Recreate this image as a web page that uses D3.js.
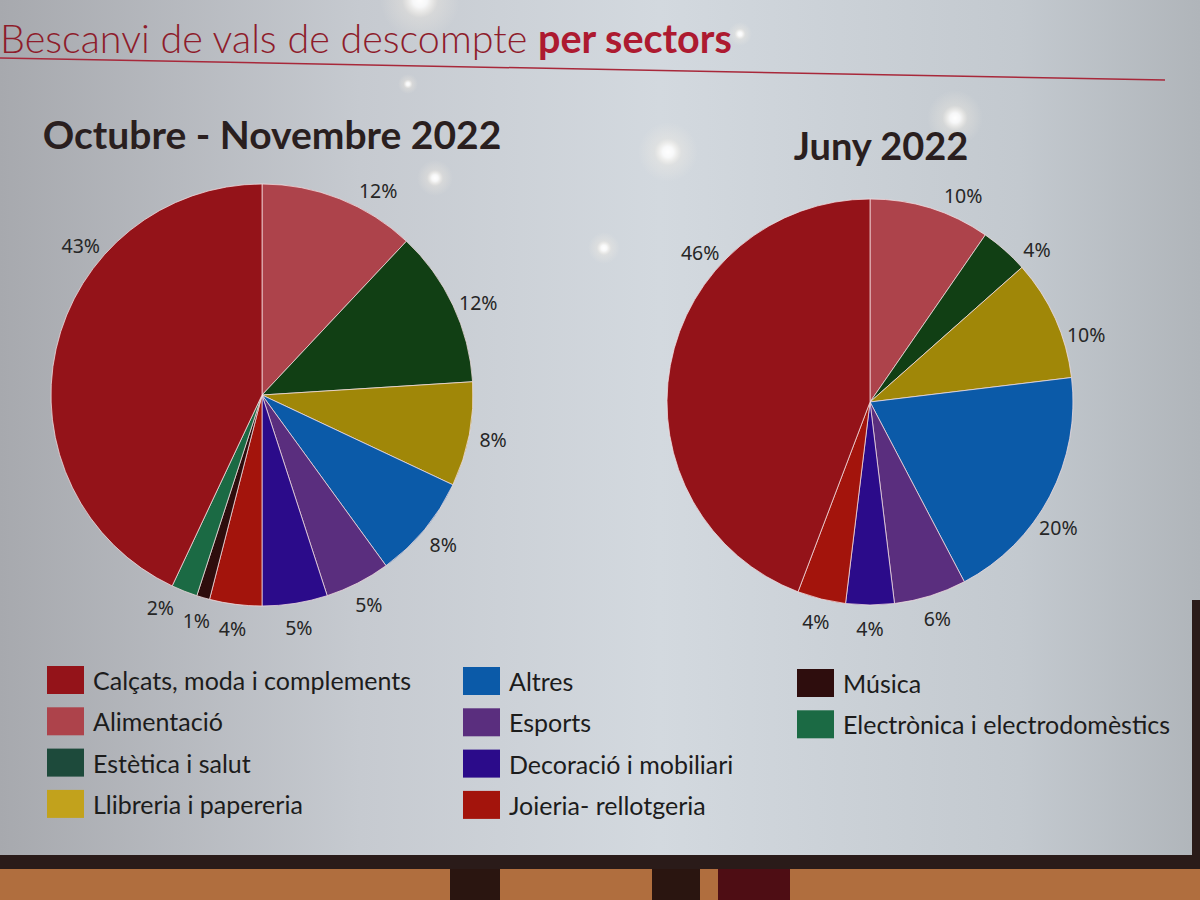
<!DOCTYPE html>
<html>
<head>
<meta charset="utf-8">
<script src="https://cdn.jsdelivr.net/npm/d3@7"></script>
<style>
  html, body { margin: 0; padding: 0; background: #c9cdd3; }
  svg { display: block; }
</style>
</head>
<body>
<svg id="chart" width="1200" height="900"></svg>
<script>
// ── Data ──────────────────────────────────────────────────────────────────────
const categories = [
  "Calçats, moda i complements", "Alimentació", "Estètica i salut",
  "Llibreria i papereria", "Altres", "Esports", "Decoració i mobiliari",
  "Joieria- rellotgeria", "Música", "Electrònica i electrodomèstics"
];
const octNovValues = [43, 12, 12, 8, 8, 5, 5, 4, 1, 2];
const junyValues   = [46, 10, 4, 10, 20, 6, 4, 4, 0, 0];
const pieTitles    = ["Octubre - Novembre 2022", "Juny 2022"];

const COLOR = {
  "Calçats, moda i complements":     "#941319",
  "Alimentació":                     "#ad434b",
  "Estètica i salut":                "#113f14",
  "Llibreria i papereria":           "#a08708",
  "Altres":                          "#0b5aa8",
  "Esports":                         "#5a2e7e",
  "Decoració i mobiliari":           "#2b0b8a",
  "Joieria- rellotgeria":            "#a3140c",
  "Música":                          "#2e0d0d",
  "Electrònica i electrodomèstics":  "#1b6a44"
};
const SWATCH = Object.assign({}, COLOR, {
  "Estètica i salut": "#1d4a3b",
  "Llibreria i papereria": "#c2a21c"
});

// pies start at 12 o'clock with Alimentació; Calçats closes the circle
const pieOrder = categories.slice(1).concat(categories[0]);

const svg = d3.select("#chart");
const W = 1200, H = 900;
const defs = svg.append("defs");

// ── Screen background ─────────────────────────────────────────────────────────
const bg = defs.append("linearGradient").attr("id", "bg")
  .attr("x1", "0").attr("y1", "0").attr("x2", "1").attr("y2", "0");
[["0%", "#a7a9ae"], ["30%", "#c6cad0"], ["55%", "#d3d9df"], ["85%", "#c3c9cf"], ["100%", "#b0b5ba"]]
  .forEach(([o, c]) => bg.append("stop").attr("offset", o).attr("stop-color", c));
svg.append("rect").attr("width", W).attr("height", 860).attr("fill", "url(#bg)");

const glow = defs.append("radialGradient").attr("id", "glow");
glow.append("stop").attr("offset", "0%").attr("stop-color", "#fff").attr("stop-opacity", 1);
glow.append("stop").attr("offset", "18%").attr("stop-color", "#fff").attr("stop-opacity", 0.85);
glow.append("stop").attr("offset", "45%").attr("stop-color", "#fff6e8").attr("stop-opacity", 0.25);
glow.append("stop").attr("offset", "100%").attr("stop-color", "#fff6e8").attr("stop-opacity", 0);
[[420, 0, 40], [668, 152, 30], [955, 118, 28], [435, 178, 18], [604, 248, 16], [408, 84, 10], [740, 34, 12]]
  .forEach(([cx, cy, r]) => svg.append("circle").attr("cx", cx).attr("cy", cy).attr("r", r).attr("fill", "url(#glow)"));

// bezel and wall below the screen
svg.append("rect").attr("x", 0).attr("y", 855).attr("width", W).attr("height", 14).attr("fill", "#2a1b19");
svg.append("rect").attr("x", 0).attr("y", 869).attr("width", W).attr("height", 31).attr("fill", "#b06e3e");
[[450, 50, "#2a1510"], [652, 48, "#2a1510"], [718, 72, "#4e0d14"]]
  .forEach(([x, w, c]) => svg.append("rect").attr("x", x).attr("y", 869).attr("width", w).attr("height", 31).attr("fill", c));
svg.append("rect").attr("x", 1192).attr("y", 600).attr("width", 8).attr("height", 260).attr("fill", "#2a1b19");

// ── Slide title ───────────────────────────────────────────────────────────────
const title = svg.append("text")
  .attr("x", 0).attr("y", 53)
  .attr("font-family", "Lato, 'Open Sans', sans-serif")
  .attr("font-size", 39.5).attr("fill", "#8e1c2b");
title.append("tspan").attr("font-weight", 300).text("Bescanvi de vals de descompte ");
title.append("tspan").attr("font-weight", 700).attr("fill", "#ad1a30").text("per sectors");

svg.append("line")
  .attr("x1", 0).attr("y1", 58).attr("x2", 1165).attr("y2", 80)
  .attr("stroke", "#a8283a").attr("stroke-width", 1.5);

// ── Pies ──────────────────────────────────────────────────────────────────────
// label nudges (degrees, clockwise) – the original labels sit off the mid-angle
const pies = [
  { title: pieTitles[0], values: octNovValues, cx: 262, cy: 395, r: 211, tx: 272, ty: 149,
    nudge: { "Calçats, moda i complements": 27, "Alimentació": 8, "Estètica i salut": 2,
             "Electrònica i electrodomèstics": 4 } },
  { title: pieTitles[1], values: junyValues,   cx: 870, cy: 402, r: 203, tx: 881, ty: 160,
    nudge: { "Calçats, moda i complements": 31, "Alimentació": 7, "Estètica i salut": 6,
             "Llibreria i papereria": 7, "Altres": 6 } }
];

pies.forEach(p => {
  const rows = pieOrder
    .map(name => ({ name, value: p.values[categories.indexOf(name)] }))
    .filter(d => d.value > 0);

  const arcs = d3.pie().sort(null).value(d => d.value)(rows);
  const arc = d3.arc().innerRadius(0).outerRadius(p.r);

  const g = svg.append("g").attr("transform", `translate(${p.cx},${p.cy})`);
  g.selectAll("path.slice")
    .data(arcs)
    .join("path")
    .attr("class", "slice")
    .attr("d", arc)
    .attr("fill", d => COLOR[d.data.name])
    .attr("stroke", "#f4dfe2").attr("stroke-opacity", 0.75).attr("stroke-width", 1);

  const lr = p.r * 1.115;
  g.selectAll("text.pct")
    .data(arcs)
    .join("text")
    .attr("class", "pct")
    .attr("transform", d => {
      const a = (d.startAngle + d.endAngle) / 2 + (p.nudge[d.data.name] || 0) * Math.PI / 180;
      return `translate(${lr * Math.sin(a)},${-lr * Math.cos(a)})`;
    })
    .attr("text-anchor", "middle")
    .attr("dominant-baseline", "central")
    .attr("font-family", "'Noto Sans', 'Open Sans', sans-serif")
    .attr("font-size", 19.5).attr("fill", "#262626")
    .text(d => d3.format(".0f")(d.value) + "%");

  svg.append("text")
    .attr("x", p.tx).attr("y", p.ty)
    .attr("text-anchor", "middle")
    .attr("font-family", "Lato, 'Open Sans', sans-serif")
    .attr("font-weight", 700).attr("font-size", p === pies[0] ? 39 : 38)
    .attr("fill", "#2a1f1f")
    .text(p.title);
});

// ── Legend ────────────────────────────────────────────────────────────────────
const legendCols = [
  { x: 47,  y: 680, items: categories.slice(0, 4) },
  { x: 463, y: 681, items: categories.slice(4, 8) },
  { x: 797, y: 683, items: categories.slice(8) }
];
const rowGap = 41.3;

legendCols.forEach(col => {
  const lg = svg.append("g").attr("transform", `translate(${col.x},${col.y})`);
  const row = lg.selectAll("g.item")
    .data(col.items)
    .join("g")
    .attr("class", "item")
    .attr("transform", (d, i) => `translate(0,${i * rowGap})`);
  row.append("rect")
    .attr("x", 0).attr("y", -14)
    .attr("width", 37).attr("height", 28)
    .attr("fill", d => SWATCH[d]);
  row.append("text")
    .attr("x", 46).attr("y", 0)
    .attr("dominant-baseline", "central")
    .attr("font-family", "Lato, 'Open Sans', sans-serif")
    .attr("font-size", 25).attr("fill", "#1c1c1c")
    .text(d => d);
});
</script>
</body>
</html>
